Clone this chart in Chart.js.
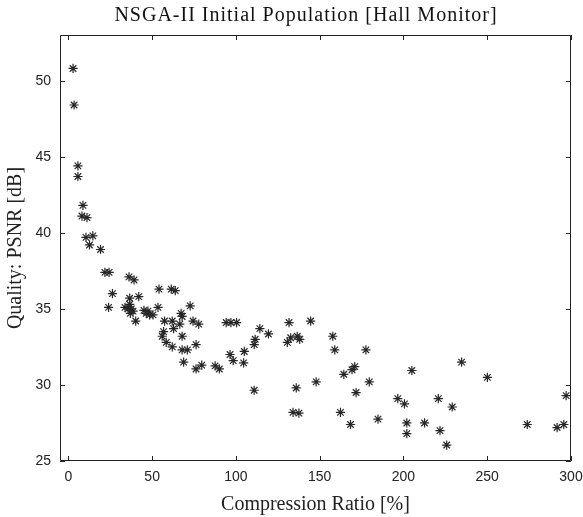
<!DOCTYPE html>
<html><head><meta charset="utf-8">
<script src="https://cdn.jsdelivr.net/npm/chart.js@4.4.0/dist/chart.umd.min.js"></script>
<style>html,body{margin:0;padding:0;background:#fff}#wrap{width:583px;height:517px}</style>
</head><body><div id="wrap"><canvas id="c" width="583" height="517"></canvas></div>
<script>
const compressionRatio = [
  2.8, 3.4, 5.7, 5.7, 8.7, 8.1, 11.1, 10.5, 14.6, 12.6,
  19.2, 21.8, 24.3, 26.3, 24.0, 36.2, 39.2, 36.6, 42.0, 33.8,
  36.6, 37.6, 35.6, 38.6, 37.0, 40.2, 45.1, 47.5, 48.5, 50.5,
  46.5, 53.5, 54.1, 61.4, 63.8, 57.4, 62.0, 62.8, 67.3, 67.9,
  66.5, 72.7, 74.4, 77.8, 56.8, 56.0, 58.4, 62.0, 67.9, 67.9,
  71.0, 76.2, 68.8, 76.2, 79.6, 87.6, 90.1, 94.2, 97.0, 100.4,
  96.5, 98.4, 105.0, 104.6, 110.9, 111.5, 114.3, 119.4, 110.9, 131.7,
  144.6, 132.7, 136.6, 138.1, 130.7, 157.8, 159.0, 177.6, 170.9, 169.3,
  164.4, 179.6, 147.9, 136.0, 171.7, 205.0, 196.6, 200.6, 134.1, 137.6,
  162.4, 168.4, 184.8, 202.0, 202.0, 212.6, 234.7, 250.1, 220.8, 229.1,
  221.8, 225.8, 273.9, 291.7, 295.7, 297.1
];
const psnr = [
  50.8, 48.4, 44.4, 43.7, 41.8, 41.1, 41.0, 39.7, 39.8, 39.2,
  38.9, 37.4, 37.4, 36.0, 35.1, 37.1, 36.9, 35.7, 35.8, 35.1,
  35.3, 35.0, 35.0, 34.85, 34.7, 34.2, 34.9, 34.85, 34.6, 34.6,
  34.7, 35.1, 36.3, 36.3, 36.2, 34.2, 34.2, 33.7, 34.7, 34.5,
  34.0, 35.2, 34.2, 34.0, 33.5, 33.2, 32.8, 32.5, 33.2, 32.3,
  32.3, 32.65, 31.5, 31.05, 31.3, 31.25, 31.05, 34.1, 34.1, 34.1,
  32.0, 31.6, 32.2, 31.45, 32.65, 33.0, 33.7, 33.35, 29.65, 34.1,
  34.2, 33.1, 33.2, 33.0, 32.8, 33.2, 32.3, 32.3, 31.2, 31.0,
  30.7, 30.2, 30.2, 29.8, 29.5, 30.95, 29.1, 28.75, 28.2, 28.15,
  28.2, 27.4, 27.75, 27.5, 26.8, 27.5, 31.5, 30.5, 29.1, 28.55,
  27.0, 26.05, 27.4, 27.2, 27.4, 29.3
];
const xTicks = [0, 50, 100, 150, 200, 250, 300];
const yTicks = [25, 30, 35, 40, 45, 50];
const titleText = 'NSGA-II Initial Population [Hall Monitor]';
const xLabel = 'Compression Ratio [%]';
const yLabel = 'Quality: PSNR [dB]';

const points = compressionRatio.map((x, i) => ({ x: x, y: psnr[i] }));
const ink = '#222';

const framePlugin = {
  id: 'frame',
  afterDatasetsDraw(chart) {
    const { ctx, chartArea: a, scales } = chart;
    ctx.save();
    ctx.strokeStyle = ink;
    ctx.lineWidth = 1;
    ctx.beginPath();
    ctx.rect(a.left + 0.5, a.top + 0.5, a.right - a.left - 1, a.bottom - a.top - 1);
    ctx.stroke();
    const tl = 5;
    ctx.beginPath();
    xTicks.forEach(v => {
      const px = Math.round(scales.x.getPixelForValue(v)) + 0.5;
      ctx.moveTo(px, a.bottom); ctx.lineTo(px, a.bottom - tl);
      ctx.moveTo(px, a.top); ctx.lineTo(px, a.top + tl);
    });
    yTicks.forEach(v => {
      const py = Math.round(scales.y.getPixelForValue(v)) + 0.5;
      ctx.moveTo(a.left, py); ctx.lineTo(a.left + tl, py);
      ctx.moveTo(a.right, py); ctx.lineTo(a.right - tl, py);
    });
    ctx.stroke();
    ctx.fillStyle = '#111';
    ctx.font = '20px "Liberation Serif"';
    if ('letterSpacing' in ctx) ctx.letterSpacing = '1px';
    ctx.textAlign = 'center';
    ctx.textBaseline = 'alphabetic';
    ctx.fillText(titleText, 306, 21);
    ctx.restore();
  }
};

new Chart(document.getElementById('c'), {
  type: 'scatter',
  data: {
    datasets: [{
      data: points,
      pointStyle: 'star',
      pointRadius: 4.6,
      pointHoverRadius: 4.6,
      borderColor: '#262626',
      backgroundColor: '#262626',
      borderWidth: 1.2,
      clip: false
    }]
  },
  options: {
    responsive: false,
    animation: false,
    devicePixelRatio: 1,
    layout: { padding: { top: 35, right: 12, left: 0, bottom: 0 } },
    plugins: { legend: { display: false }, tooltip: { enabled: false }, title: { display: false } },
    scales: {
      x: {
        type: 'linear',
        min: -5,
        max: 300,
        afterBuildTicks: s => { s.ticks = xTicks.map(v => ({ value: v })); },
        afterFit: s => { s.height = 56; s.paddingRight = 0; s.paddingLeft = 0; },
        grid: { display: false, drawTicks: false },
        border: { display: false },
        ticks: { color: ink, font: { family: '"Liberation Sans"', size: 14 }, padding: 8, maxRotation: 0 },
        title: { display: true, text: xLabel, color: ink, font: { family: '"Liberation Serif"', size: 20 }, padding: { top: 0, bottom: 0 } }
      },
      y: {
        type: 'linear',
        min: 25,
        max: 53,
        afterBuildTicks: s => { s.ticks = yTicks.map(v => ({ value: v })); },
        afterFit: s => { s.width = 60; s.paddingTop = 0; s.paddingBottom = 0; },
        grid: { display: false, drawTicks: false },
        border: { display: false },
        ticks: { color: ink, font: { family: '"Liberation Sans"', size: 14 }, padding: 9 },
        title: { display: true, text: yLabel, color: ink, font: { family: '"Liberation Serif"', size: 20 }, padding: { top: 4, bottom: 0 } }
      }
    }
  },
  plugins: [framePlugin]
});
</script>
</body></html>
